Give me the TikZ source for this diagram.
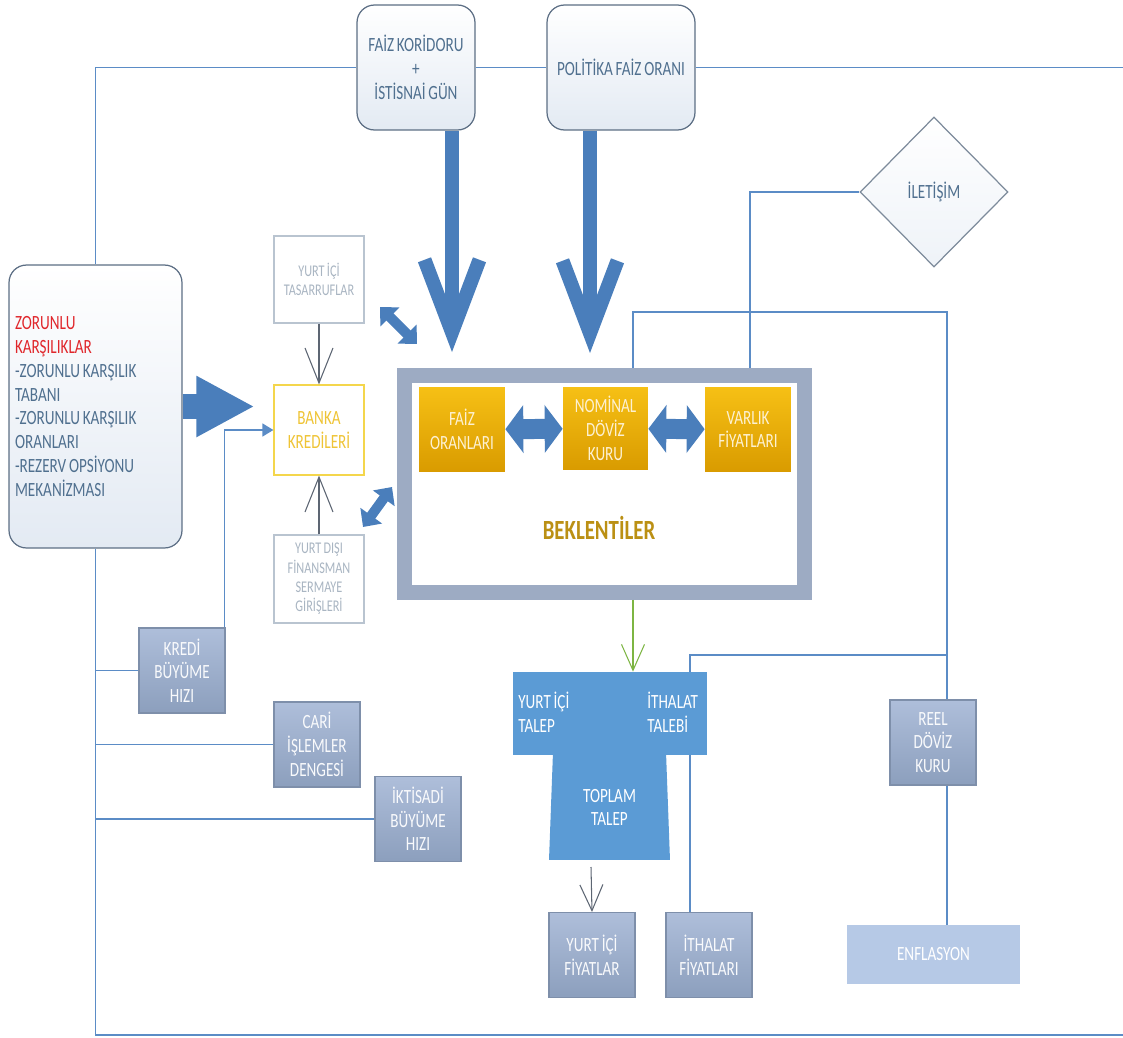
\documentclass[tikz,border=0pt]{standalone}
\usepackage{fontspec}
\setmainfont{Carlito}[FakeStretch=0.75, WordSpace=0.8]
\usepackage{tikz}
\usetikzlibrary{arrows.meta}
\usetikzlibrary{shapes.geometric}
\usetikzlibrary{calc}

\definecolor{wireblue}{HTML}{5B8CC6}
\definecolor{fatblue}{HTML}{4A7EBB}
\definecolor{boxtext}{HTML}{50708F}
\definecolor{boxline}{HTML}{5C6E84}
\definecolor{boxfill}{HTML}{E3EAF3}
\definecolor{redtext}{HTML}{E0262B}
\definecolor{greyA}{HTML}{AEBEDA}
\definecolor{greyB}{HTML}{8C9FBD}
\definecolor{greyline}{HTML}{7E8FAA}
\definecolor{paletext}{HTML}{A9B5C2}
\definecolor{paleline}{HTML}{B9C4D0}
\definecolor{yellowline}{HTML}{F4D64C}
\definecolor{yellowtext}{HTML}{EFC436}
\definecolor{goldA}{HTML}{F6C015}
\definecolor{goldB}{HTML}{D99B00}
\definecolor{goldtext}{HTML}{FDF1D2}
\definecolor{beklentitext}{HTML}{BB9014}
\definecolor{framegrey}{HTML}{9DABC3}
\definecolor{talepblue}{HTML}{5B9BD5}
\definecolor{enfblue}{HTML}{B6C9E6}
\definecolor{vgreen}{HTML}{7DB543}
\definecolor{vgrey}{HTML}{5D6673}
\definecolor{diamondline}{HTML}{7D8B9B}

\tikzset{
  every node/.style={font=\fontsize{11.5}{13.5}\selectfont, align=center},
  roundbox/.style={draw=boxline, line width=0.7pt, rounded corners=0.35cm, top color=white, bottom color=boxfill, text=boxtext, inner sep=0pt},
  greybox/.style={draw=greyline, line width=0.6pt, top color=greyA, bottom color=greyB, text=white!92!greyA, minimum width=1.72cm, minimum height=1.7cm, inner sep=0pt},
  palebox/.style={draw=paleline, line width=0.7pt, fill=white, text=paletext, font=\fontsize{9.3}{11}\selectfont, minimum width=1.8cm, inner sep=0pt},
  goldbox/.style={top color=goldA, bottom color=goldB, text=goldtext, minimum width=1.72cm, minimum height=1.7cm, inner sep=0pt},
  wire/.style={draw=wireblue, line width=0.85pt},
  bigarrow/.style={draw=fatblue, line width=0.28cm, -{Straight Barb[length=1.45cm, width=1.1cm]}},
  fatarrow/.style={draw=fatblue, line width=0.5cm, -{Triangle[length=1.16cm, width=1.14cm]}},
  twoway/.style={draw=fatblue, line width=0.4cm, {Triangle[length=0.36cm, width=0.94cm]}-{Triangle[length=0.36cm, width=0.94cm]}},
  smalltwoway/.style={draw=fatblue, line width=0.2cm, {Triangle[length=0.28cm, width=0.52cm]}-{Triangle[length=0.28cm, width=0.52cm]}},
  vee/.style={line width=0.6pt, -{Straight Barb[length=0.7cm, width=0.56cm]}},
  smallvee/.style={line width=0.6pt, -{Straight Barb[length=0.52cm, width=0.46cm]}},
}

\begin{document}
\begin{tikzpicture}[x=0.02cm, y=-0.02cm]
\useasboundingbox (0,0) rectangle (1123,1038);

\path (416,67.5) node[roundbox, minimum width=2.36cm, minimum height=2.5cm] (faiz) {FAİZ KORİDORU\\+\\İSTİSNAİ GÜN};
\path (621,67.5) node[roundbox, minimum width=2.96cm, minimum height=2.5cm] (politika) {POLİTİKA FAİZ ORANI};
\path (95.5,406.5) node[roundbox, minimum width=3.46cm, minimum height=5.66cm, text width=3.22cm, align=flush left] (zorunlu) {{\color{redtext}ZORUNLU}\\{\color{redtext}KARŞILIKLAR}\\-ZORUNLU KARŞILIK\\TABANI\\-ZORUNLU KARŞILIK\\ORANLARI\\-REZERV OPSİYONU\\MEKANİZMASI};

\path (319,279.5) node[palebox, minimum height=1.74cm] (tasarruf) {YURT İÇİ\\TASARRUFLAR};
\path (319,430) node[palebox, draw=yellowline, text=yellowtext, font=\fontsize{11.5}{13.5}\selectfont, minimum height=1.8cm] (banka) {BANKA\\KREDİLERİ};
\path (319,579) node[palebox, minimum height=1.76cm] (yurtdisi) {YURT DIŞI\\FİNANSMAN\\SERMAYE\\GİRİŞLERİ};

\path (604.5,484) node[draw=framegrey, line width=0.3cm, fill=white, minimum width=8cm, minimum height=4.34cm] (beklenti) {};
\path (599,528) node[text=beklentitext, font=\bfseries\fontsize{15.8}{18}\selectfont] (beklentitxt) {BEKLENTİLER};
\path (462,429.5) node[goldbox] (faizoran) {FAİZ\\ORANLARI};
\path (605.5,428.5) node[goldbox, minimum width=1.7cm, minimum height=1.66cm] (nominal) {NOMİNAL\\DÖVİZ\\KURU};
\path (748,429.5) node[goldbox] (varlik) {VARLIK\\FİYATLARI};

\path (934,192) node[diamond, draw=diamondline, line width=0.7pt, top color=white, bottom color=boxfill!60, text=boxtext, minimum width=2.96cm, minimum height=3cm, inner sep=0pt] (iletisim) {İLETİŞİM};

\path (182,670.5) node[greybox] (kredi) {KREDİ\\BÜYÜME\\HIZI};
\path (317,744.5) node[greybox] (cari) {CARİ\\İŞLEMLER\\DENGESİ};
\path (418,819) node[greybox] (iktisadi) {İKTİSADİ\\BÜYÜME\\HIZI};
\path (933,742.5) node[greybox] (reel) {REEL\\DÖVİZ\\KURU};
\path (592,955) node[greybox] (yifiyat) {YURT İÇİ\\FİYATLAR};
\path (709,955) node[greybox] (ithfiyat) {İTHALAT\\FİYATLARI};
\path (933.5,954.5) node[fill=enfblue, text=white, minimum width=3.46cm, minimum height=1.18cm] (enflasyon) {ENFLASYON};

\coordinate (toprt) at (1123,67);
\coordinate (botrt) at (1123,1035);
\coordinate (k1) at (633,312);
\coordinate (k2) at (947,312);
\coordinate (k3) at (947,655);
\coordinate (k4) at (690,655);
\coordinate (k5) at (750,192);

\draw[wire] (zorunlu.north) |- (faiz.west);
\draw[wire] (faiz.east) -- (politika.west);
\draw[wire] (politika.east) -- (politika.east -| toprt);
\draw[wire] (zorunlu.south) |- (botrt);
\foreach \n in {kredi,cari,iktisadi}
  \draw[wire] (zorunlu.south |- \n.west) -- (\n.west);
\draw[wire, -{Triangle[length=0.22cm, width=0.26cm]}] ([xshift=-0.02cm]kredi.north east) |- (banka.west);
\draw[wire] (beklenti.north -| k1) -- (k1) -- (k2) -- (reel.north -| k2);
\draw[wire] (reel.south -| k2) -- (enflasyon.north -| k2);
\draw[wire] (k3) -- (k4) -- (ithfiyat.north -| k4);
\draw[wire] (beklenti.north -| k5) -- (k5) -- (iletisim.west);

\path (610,713.5) node[fill=talepblue, minimum width=3.88cm, minimum height=1.66cm] (talep) {};
\path (518,712) node[anchor=west, text=white, align=left, inner sep=0pt] (ytalep) {YURT İÇİ\\TALEP};
\path (647,712) node[anchor=west, text=white, align=left, inner sep=0pt] (ittalep) {İTHALAT\\TALEBİ};
\path (609.5,807.5) node[trapezium, trapezium angle=84, trapezium stretches body, fill=talepblue, text=white, minimum width=2.42cm, minimum height=2.1cm, inner sep=0pt] (toplam) {TOPLAM\\TALEP};

\coordinate (fz) at (452,352);
\coordinate (pz) at (590,353);
\draw[bigarrow] (faiz.south -| fz) -- (fz);
\draw[bigarrow] (politika.south -| pz) -- (pz);
\draw[fatarrow, shorten >=0.38cm] (zorunlu.east) -- (zorunlu.east -| banka.west);

\foreach \a/\b in {faizoran/nominal,nominal/varlik}
  \draw[twoway] (\a) -- (\b);

\coordinate (d1) at (380,307);
\coordinate (d2) at (417,344);
\coordinate (d3) at (363,527);
\coordinate (d4) at (392,487);
\draw[smalltwoway] (d1) -- (d2);
\draw[smalltwoway] (d3) -- (d4);

\draw[vee, draw=vgrey] (tasarruf) -- (banka);
\draw[vee, draw=vgrey] (yurtdisi) -- (banka);
\draw[smallvee, draw=vgreen] (beklenti.south -| k1) -- (talep.north -| k1);
\coordinate (t1) at (591,867);
\draw[smallvee, draw=vgrey] (t1) -- (yifiyat.north);

\end{tikzpicture}
\end{document}
